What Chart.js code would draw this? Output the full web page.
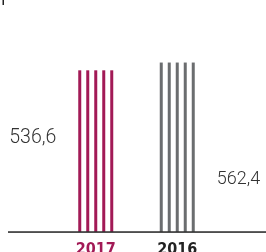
<!DOCTYPE html>
<html>
<head>
<meta charset="utf-8">
<script src="https://cdn.jsdelivr.net/npm/chart.js@4.4.0/dist/chart.umd.min.js"></script>
<style>
    html, body { margin: 0; padding: 0; overflow: hidden; background: #fff; }
    #wrap { position: relative; width: 266px; height: 264px; }
</style>
</head>
<body>
<div id="wrap"><canvas id="chart"></canvas></div>
<script>
// Chart data
const years = ['2017', '2016'];
const revenue = [536.6, 562.4];
const valueLabels = ['536,6', '562,4'];

const barColors = ['#a21a56', '#6b6d6f'];
const yearColors = ['#a21a56', '#222222'];

/**
 * Draws each bar as a set of thin vertical stripes,
 * plus the value label beside it and the baseline
 */
const stripePlugin = {
    id: 'stripes',
    afterDatasetsDraw(chart, args, opts) {
        const ctx = chart.ctx;
        const meta = chart.getDatasetMeta(0);
        const area = chart.chartArea;

        ctx.save();
        meta.data.forEach((bar, i) => {
            const left = bar.x - bar.width / 2;
            const h = bar.base - bar.y;
            ctx.fillStyle = barColors[i];
            for (let k = 0; k < opts.count; k++) {
                ctx.fillRect(left + k * opts.step, bar.y, opts.lineWidth, h);
            }

            // value label
            ctx.font = '300 ' + opts.labelSize[i] + 'px Roboto';
            ctx.fillStyle = '#333';
            ctx.textBaseline = 'middle';
            const ly = bar.y + h * opts.labelPos[i];
            if (i === 0) {
                ctx.textAlign = 'right';
                ctx.fillText(valueLabels[i], left - opts.gap, ly);
            } else {
                ctx.textAlign = 'left';
                ctx.fillText(valueLabels[i], left + bar.width + opts.gap, ly);
            }
        });

        // baseline across the whole width
        ctx.fillStyle = '#222';
        ctx.fillRect(8, area.bottom - 0.5, chart.width - 8, 1.5);

        // small mark top-left (cut-off heading)
        ctx.fillRect(2.5, 0, 1.5, 5);
        ctx.restore();
    }
};

new Chart(document.getElementById('chart'), {
    type: 'bar',
    data: {
        labels: years,
        datasets: [{
            data: revenue,
            backgroundColor: 'rgba(0,0,0,0)',
            barThickness: 35
        }]
    },
    options: {
        responsive: true,
        maintainAspectRatio: false,
        animation: false,
        layout: {
            padding: { top: 10, left: 55, right: 48, bottom: 5 }
        },
        plugins: {
            legend: { display: false },
            tooltip: { enabled: false },
            stripes: {
                count: 5,
                step: 8,
                lineWidth: 3,
                gap: 22,
                labelPos: [0.42, 0.69],
                labelSize: [19.5, 18]
            }
        },
        scales: {
            x: {
                grid: { display: false },
                border: { display: false },
                ticks: {
                    padding: 0,
                    color: yearColors,
                    font: { family: 'DejaVu Sans Condensed', size: 16, weight: 'bold' }
                }
            },
            y: {
                display: false,
                min: 0,
                max: 737
            }
        }
    },
    plugins: [stripePlugin]
});
</script>
</body>
</html>
